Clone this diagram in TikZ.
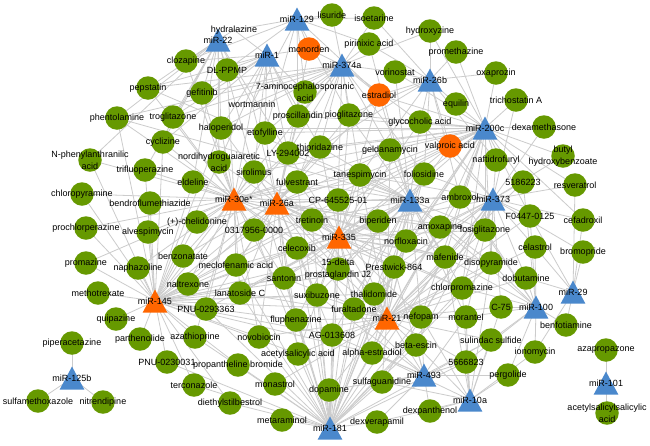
\documentclass[tikz,border=0pt]{standalone}
\usepackage{fontspec}
\setmainfont{Liberation Sans}
\pgfdeclarelayer{bg}
\pgfdeclarelayer{edges}
\pgfdeclarelayer{labels}
\pgfsetlayers{bg,edges,main,labels}
\definecolor{dgreen}{RGB}{102,153,0}
\definecolor{dorange}{RGB}{255,102,0}
\definecolor{mblue}{RGB}{74,136,204}
\definecolor{egray}{RGB}{204,204,204}
\begin{document}
\begin{tikzpicture}[x=1pt,y=-1pt,
  drug/.style={circle,fill=dgreen,minimum size=23.5pt,inner sep=0pt},
  odrug/.style={drug,fill=dorange},
  bare/.style={circle,minimum size=23.5pt,inner sep=0pt},
  mir/.style={coordinate},
  lbl/.style={font=\fontsize{9}{12}\selectfont,align=center,inner sep=0pt,text=black},
  edge/.style={draw=egray,line width=0.8pt}]
\begin{pgfonlayer}{bg}
\fill[white] (0,0) rectangle (650,445);
\end{pgfonlayer}
\useasboundingbox (0,0) rectangle (650,445);
% drug nodes (green)
\foreach \id/\x/\y/\t in {
 clz/186/61/clozapine, pep/148/88/pepstatin, gef/202/93/gefitinib, phe/117/118/phentolamine,
 tro/173/117/troglitazone, cyc/163/142/cyclizine, hal/221/128/haloperidol, dlp/227/70/DL-PPMP,
 lis/332/15/lisuride, iso/374/18/isoetarine, hyz/430/31/hydroxyzine,
 pir/369/44/pirinixic acid, vor/395/72/vorinostat, ami/305/92/{7-aminocephalosporanic\\acid},
 eto/265/133/etofylline, pro/298/116/proscillaridin, pio/349/115/pioglitazone,
 gly/420/122/glycocholic acid, thi/320/147/thioridazine, gel/390/150/geldanamycin,
 prm/456/52/promethazine, oxa/496/73/oxaprozin, equ/456/104/equilin, tri/516/100/trichostatin A,
 dex/544/127/dexamethasone, but/563/156/{butyl\\hydroxybenzoate}, nph/90/160/{N-phenylanthranilic\\acid},
 tfp/145/170/trifluoperazine, eld/193/182/eldeline, ndg/219/162/{nordihydroguaiaretic\\acid},
 chl/82/194/chloropyramine, ben/150/203/bendroflumethiazide, che/197/222/(+)-chelidonine,
 prc/86/228/prochlorperazine, alv/148/232/alvespimycin, bzn/183/256/benzonatate, prz/86/263/promazine,
 nap/138/268/naphazoline, nal/188/284/naltrexone, met/98/293/methotrexate, mec/236/265/meclofenamic acid,
 ly/288/153/LY-294002, sir/254/172/sirolimus, ful/297/182/fulvestrant, tan/360/175/tanespimycin,
 fol/424/174/foliosidine, cp/338/200/CP-645525-01, tre/312/220/tretinoin, bip/378/221/biperiden,
 n03/254/230/0317956-0000, nor/406/241/norfloxacin, cel/297/248/celecoxib,
 pgj/338/269/{15-delta\\prostaglandin J2}, pw/394/267/Prestwick-864, san/284/278/santonin,
 lan/240/293/lanatoside C, sux/317/295/suxibuzone, tha/374/294/thalidomide, naf/496/160/naftidrofuryl,
 amb/460/197/ambroxol, n51/523/182/5186223, res/575/185/resveratrol, f04/530/216/F0447-0125,
 cef/583/220/cefadroxil, amo/440/227/amoxapine, fos/485/230/fosiglitazone, maf/445/257/mafenide,
 cls/535/247/celastrol, bro/583/252/bromopride, dis/491/263/disopyramide, dob/526/278/dobutamine,
 cpz/462/288/chlorpromazine, c75/501/307/C-75, nef/421/317/nefopam, mor/466/317/morantel,
 fur/354/309/furaltadone, pnu1/206/309/PNU-0293363, qui/116/319/quipazine, par/140/339/parthenolide,
 aza/195/337/azathioprine, pip/72/343/piperacetazine, pnu2/167/362/PNU-0230031,
 ptb/238/365/propantheline bromide, ter/194/385/terconazole, sul/38/401/sulfamethoxazole,
 nit/103/402/nitrendipine, die/230/403/diethylstilbestrol, flu/296/320/fluphenazine,
 nov/259/337/novobiocin, ag/332/335/AG-013608, ale/372/353/alpha-estradiol,
 asa/298/354/acetylsalicylic acid, bes/416/345/beta-escin, mns/275/384/monastrol, dop/329/390/dopamine,
 sfg/382/382/sulfaguanidine, mta/282/420/metaraminol, dvp/377/422/dexverapamil, dxp/430/411/dexpanthenol,
 bft/566/325/benfotiamine, sls/491/340/sulindac sulfide, ion/535/352/ionomycin, azp/606/350/azapropazone,
 n56/466/362/5666823, per/508/375/pergolide, aas/607/413/{acetylsalicylsalicylic\\acid}}
{
  \node[drug] (\id) at (\x,\y) {};
  \begin{pgfonlayer}{labels}\node[lbl] (t-\id) at (\id.center) {\t};\end{pgfonlayer}
}
% nodes shown by their label only
\foreach \id/\x/\y/\t in {hyd/234/30/hydralazine, wor/252/104/wortmannin}
{
  \node[bare] (\id) at (\x,\y) {};
  \begin{pgfonlayer}{labels}\node[lbl] (t-\id) at (\id.center) {\t};\end{pgfonlayer}
}
% orange drug nodes
\foreach \id/\x/\y/\t in {mon/309/49/monorden, est/379/95/estradiol, val/450/146/valproic acid}
{
  \node[odrug] (\id) at (\x,\y) {};
  \begin{pgfonlayer}{labels}\node[lbl] (t-\id) at (\id.center) {\t};\end{pgfonlayer}
}
% miRNA nodes (triangles)
\foreach \id/\x/\y/\t/\c in {
 m22/218/40/miR-22/mblue, m129/297/19/miR-129/mblue, m1/267/55/miR-1/mblue, m374/342/65/miR-374a/mblue,
 m26b/430/80/miR-26b/mblue, m200/485/128/miR-200c/mblue, m30/234/199/miR-30e*/dorange,
 m26a/277/203/miR-26a/dorange, m133/410/200/miR-133a/mblue, m373/493/199/miR-373/mblue,
 m335/339/237/miR-335/dorange, m145/155/301/miR-145/dorange, m21/387/318/miR-21/dorange,
 m100/536/307/miR-100/mblue, m29/573/292/miR-29/mblue, m493/424/375/miR-493/mblue,
 m10a/470/400/miR-10a/mblue, m181/330/428/miR-181/mblue, m125/72/378/miR-125b/mblue,
 m101/606/383/miR-101/mblue}
{
  \node[mir] (\id) at (\x,\y) {};
  \fill[\c] (\id) ++(-12.3,11.5) -- ++(24.6,0) -- ++(-12.3,-23) -- cycle;
  \begin{pgfonlayer}{labels}\node[lbl] (t-\id) at (\id) {\t};\end{pgfonlayer}
}
% interactions
\begin{pgfonlayer}{edges}
\foreach \m/\l in {
 m22/{clz,gef,dlp,hyd,pep,tro,phe,hal,wor,cyc,tfp,nph,eld,ndg,sir,ly},
 m129/{hyd,lis,mon,iso,dlp,ami,wor,pir,clz,pro,eto,pio,est},
 m1/{dlp,hyd,clz,mon,gef,wor,ami,eto,hal,pro,tro,pep,cyc,ndg,sir,ly,thi},
 m374/{mon,lis,iso,pir,vor,est,ami,pro,pio,hyz,thi,gel,gly,ly,tan,fol,cp,ful,sir,eto,wor,hal,tro,gef,pep,phe},
 m26b/{hyz,prm,equ,oxa,pir,vor,gly,est,val,iso,tan,fol,amb,naf,thi,pio},
 m200/{oxa,tri,dex,equ,prm,but,naf,val,gly,gel,fol,amb,res,n51,hyz,fos,amo,maf,est,vor,cef,f04,thi,pio,tan,bip,nor,cp,pw,tre,dis,cpz,nef,tha,ly,eto,pro,hal,n03,sir},
 m30/{nph,tfp,eld,ndg,chl,ben,che,prc,alv,bzn,prz,nap,sir,ly,hal,eto,cyc,tro,gef,pep,phe,wor,n03,mec,cel,tre,ful,lan,san,nal,pgj,cp,pnu1,aza,flu,nov,tan,clz,dlp,amo,maf,gel,fol,pw},
 m26a/{sir,ful,ly,tre,cel,n03,mec,san,lan,ndg,eld,che,bzn,nal,hal,eto,pro,thi,wor,ami,cp,tan,pgj,sux,fur,ag,asa,flu,nov,pnu1,bip,nor,pw,gel,pio,tha,mon,est,amb,fos,dis,cpz},
 m335/{cp,tre,bip,nor,pgj,pw,cel,san,sux,tha,tan,fol,gel,thi,pio,ful,fur,ag,ale,amo,maf,n03,mec,lan,flu,asa,nef,cpz,dis,fos,amb,gly,val,est,ly,sir},
 m133/{fol,tan,bip,nor,amb,amo,gel,val,gly,pio,thi,est,maf,pw,fos,dis,tha,cpz,vor,pir,ly,ful,cp,tre,cel,pgj,sux,fur,ag,ale,nef,mor,san,lan,pnu1,phe,pep},
 m373/{amb,n51,f04,fos,naf,but,res,cef,cls,dis,maf,amo,val,bro,dob,dex,tri,nor,pw,tha,fur,ale,bes,sfg,nef,mor,c75,cpz,gly,fol,tan,bip},
 m145/{met,qui,par,pnu2,aza,pnu1,nap,prz,prc,chl,nph,alv,bzn,nal,mec,lan,ben,tfp,che,ter,ptb,nov,cel,san,sux,flu,asa,die,n03,eld,phe,cyc,tre,pgj,pw,cp,ful,sir,ly,tha,fur,ag,ale,nor,bip,ndg,hal},
 m21/{fur,tha,nef,mor,cpz,ale,bes,ag,sfg,pw,nor,pgj,sux,maf,dis,c75,sls,n56,dop,asa,flu,mns,dob,bip,tre,cp,tan,fol,gel,amb,amo,fos,n51,cls,f04,cel,san,lan,nov},
 m100/{c75,bft,ion,mor,sls,dob,cls,per,n56,dis,cpz,f04,maf,amo,fos,amb,n51},
 m29/{bft,bro,dob,cls,cef,res,ion,f04},
 m493/{sfg,dxp,bes,n56,ale,per,dvp,sls,mor,nef,dop,tha,ag,fur,pw,sux},
 m10a/{per,n56,sls,dxp,sfg,ion,bes,mor,dvp,cpz,ale,c75,maf,dis,nef},
 m181/{mta,dvp,dop,mns,die,ter,asa,ale,ag,flu,nov,ptb,sfg,fur,tha,sux,lan,san,pgj,cel,tre,bes,nef,pw,aza,pnu1,pnu2,cp,bip,nor,tan,fol,ful,sir,mec,n03,dis,maf,amo,cpz,sls,n56},
 m125/{pip,sul,nit},
 m101/{azp,aas}}
{
  \foreach \d in \l { \draw[edge] (\m) -- (\d.center); }
}
\end{pgfonlayer}
\end{tikzpicture}
\end{document}
